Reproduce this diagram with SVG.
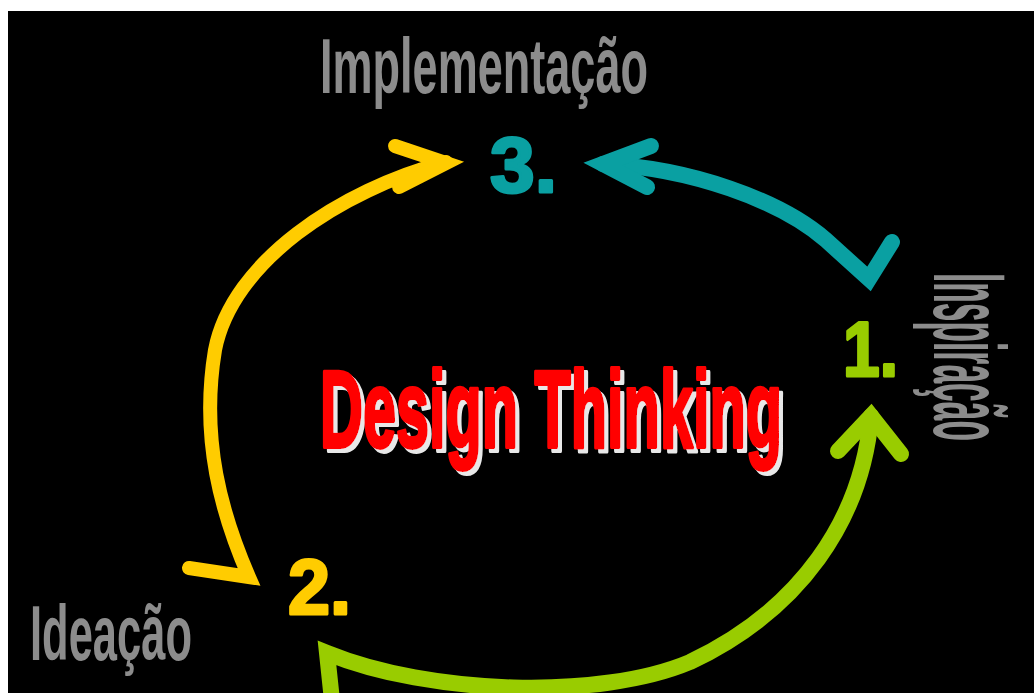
<svg xmlns="http://www.w3.org/2000/svg" width="1034" height="693" viewBox="0 0 1034 693">
<style>
.lbl{font-family:"Liberation Sans",Arial,sans-serif;font-weight:bold;fill:#8c8c8c;}
.num{font-family:"Liberation Sans",Arial,sans-serif;font-weight:bold;font-size:78px;stroke-width:3;stroke-linejoin:round;}
.title{font-family:"Liberation Sans",Arial,sans-serif;font-weight:bold;font-size:110px;stroke-width:4;stroke-linejoin:round;}
.arr{fill:none;stroke-linecap:round;stroke-linejoin:miter;stroke-miterlimit:6;}
.y{stroke:#ffcc00;stroke-width:14;}
.t{stroke:#0aa0a2;stroke-width:16;}
.g{stroke:#99cc00;stroke-width:16;}
</style>
<defs>
  <filter id="shadow" x="-5%" y="-10%" width="110%" height="125%">
    <feOffset in="SourceAlpha" dx="4" dy="4" result="off"/>
    <feFlood flood-color="#e8e8e8"/>
    <feComposite in2="off" operator="in" result="sh"/>
    <feMerge><feMergeNode in="sh"/><feMergeNode in="SourceGraphic"/></feMerge>
  </filter>
</defs>
<rect x="0" y="0" width="1034" height="693" fill="#ffffff"/>
<rect x="8" y="11" width="1026" height="682" fill="#000000"/>
<g id="connectors">
  <path class="arr y" d="M446,162 C340,190 232,262 215,350 C200,440 222,515 249,577 L189,568"/>
  <path class="arr y" d="M395,146 L446,163 L399,187"/>
  <path class="arr t" d="M603,164 C690,168 780,200 826,240 L869,279 L892,242"/>
  <path class="arr t" d="M651,146 L603,164 L647,187"/>
  <path class="arr g" d="M871,416 C862,520 800,610 690,662 C600,700 430,695 327,653 L333,710"/>
  <path class="arr g" d="M838,451 L871,416 L901,454"/>
</g>
<g id="title" filter="url(#shadow)">
  <text class="title" x="320" y="447" textLength="462" lengthAdjust="spacingAndGlyphs" fill="#ff0000" stroke="#ff0000">Design Thinking</text>
</g>
<g id="node-implementacao">
  <text class="lbl" x="320" y="93" font-size="77" textLength="328" lengthAdjust="spacingAndGlyphs">Implementação</text>
  <text class="num" x="490" y="192" textLength="67" lengthAdjust="spacingAndGlyphs" fill="#0aa0a2" stroke="#0aa0a2">3.</text>
</g>
<g id="node-inspiracao">
  <text class="lbl" transform="translate(934,273) rotate(90)" x="0" y="0" font-size="102" textLength="168" lengthAdjust="spacingAndGlyphs">Inspiração</text>
  <text class="num" x="843" y="376" textLength="55" lengthAdjust="spacingAndGlyphs" fill="#99cc00" stroke="#99cc00">1.</text>
</g>
<g id="node-ideacao">
  <text class="lbl" x="30" y="660" font-size="77" textLength="162" lengthAdjust="spacingAndGlyphs">Ideação</text>
  <text class="num" x="288" y="614" textLength="63" lengthAdjust="spacingAndGlyphs" fill="#ffcc00" stroke="#ffcc00">2.</text>
</g>
</svg>
